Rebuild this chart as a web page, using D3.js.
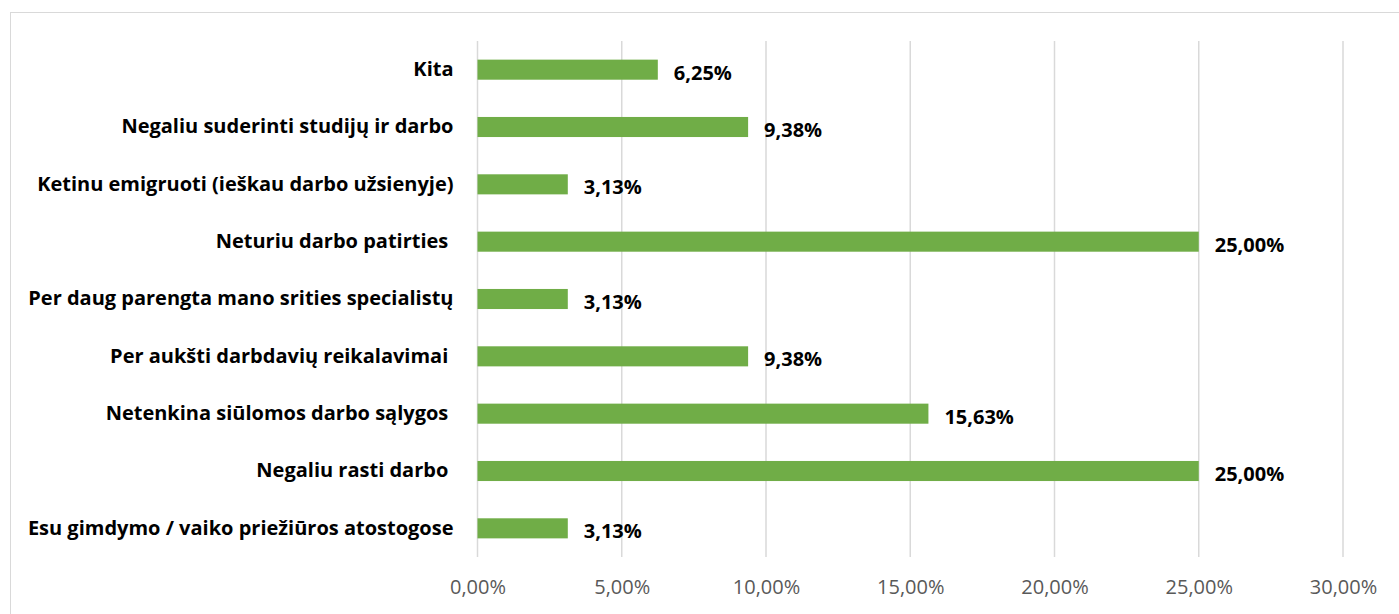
<!DOCTYPE html>
<html>
<head>
<meta charset="utf-8">
<script src="https://cdn.jsdelivr.net/npm/d3@7"></script>
<style>
  body { margin: 0; background: #fff; }
  text { white-space: pre; }
</style>
</head>
<body>
<div id="chart"></div>
<script>
// categories from top to bottom
const categories = [
    "Kita",
    "Negaliu suderinti studijų ir darbo",
    "Ketinu emigruoti (ieškau darbo užsienyje)",
    "Neturiu darbo patirties ",
    "Per daug parengta mano srities specialistų",
    "Per aukšti darbdavių reikalavimai ",
    "Netenkina siūlomos darbo sąlygos ",
    "Negaliu rasti darbo ",
    "Esu gimdymo / vaiko priežiūros atostogose"
];
const values = [6.25, 9.38, 3.13, 25.00, 3.13, 9.38, 15.63, 25.00, 3.13];
const tickValues = [0, 5, 10, 15, 20, 25, 30];

const width = 1399, height = 614;
const margin = {top: 41, right: 56, bottom: 57, left: 477.5};
const fmt = v => v.toFixed(2).replace(".", ",") + "%";

const svg = d3.select("#chart").append("svg")
    .attr("width", width)
    .attr("height", height);

// chart border
svg.append("rect")
    .attr("x", 10.5).attr("y", 12.5)
    .attr("width", 1400).attr("height", 620)
    .attr("fill", "none")
    .attr("stroke", "#d9d9d9");

const x = d3.scaleLinear()
    .domain([0, 30])
    .range([margin.left, width - margin.right]);

const y = d3.scaleBand()
    .domain(categories)
    .range([margin.top, height - margin.bottom])
    .paddingInner(0.65)
    .paddingOuter(0.325);

// gridlines
svg.append("g")
    .selectAll("line")
    .data(tickValues)
    .join("line")
    .attr("x1", d => x(d)).attr("x2", d => x(d))
    .attr("y1", margin.top).attr("y2", height - margin.bottom)
    .attr("stroke", "#d9d9d9")
    .attr("stroke-width", 1.5);

// x axis labels
const xAxis = svg.append("g")
    .attr("transform", `translate(0,${height - margin.bottom})`)
    .call(d3.axisBottom(x).tickValues(tickValues).tickFormat(fmt).tickSize(0).tickPadding(23));
xAxis.select(".domain").remove();
xAxis.selectAll("text")
    .attr("fill", "#595959")
    .style("font-family", "'Open Sans', sans-serif")
    .style("font-size", "20px");

// y axis labels
const yAxis = svg.append("g")
    .attr("transform", `translate(${margin.left},0)`)
    .call(d3.axisLeft(y).tickSize(0).tickPadding(24));
yAxis.select(".domain").remove();
yAxis.selectAll("text")
    .attr("fill", "#000")
    .style("font-family", "'Open Sans', sans-serif")
    .style("font-weight", "bold")
    .style("font-size", "20px");

// bars
svg.append("g")
    .selectAll("rect")
    .data(values)
    .join("rect")
    .attr("x", x(0))
    .attr("y", (d, i) => y(categories[i]))
    .attr("width", d => x(d) - x(0))
    .attr("height", y.bandwidth())
    .attr("fill", "#70ad47");

// value labels (sit a little below bar centre, as in the original)
svg.append("g")
    .selectAll("text")
    .data(values)
    .join("text")
    .attr("x", d => x(d) + 16)
    .attr("y", (d, i) => y(categories[i]) + y.bandwidth() / 2 + 3)
    .attr("dy", "0.35em")
    .attr("fill", "#000")
    .style("font-family", "'Open Sans', sans-serif")
    .style("font-weight", "bold")
    .style("font-size", "20px")
    .text(fmt);
</script>
</body>
</html>
